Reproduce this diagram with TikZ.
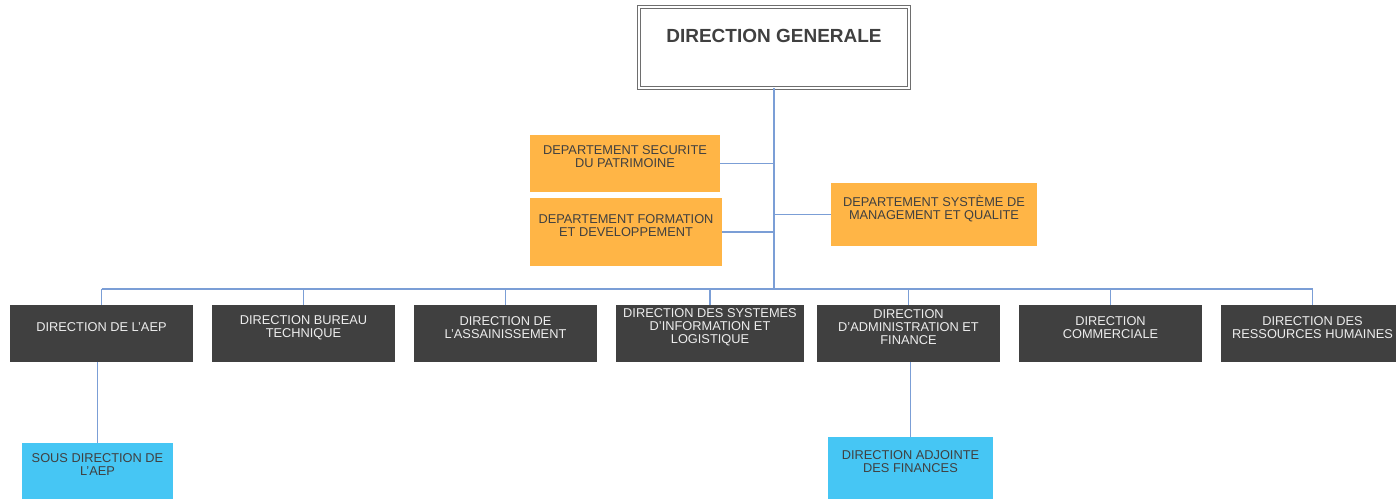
\documentclass[tikz,border=0pt]{standalone}
\usepackage{fontspec}
\setmainfont{Liberation Sans}
\definecolor{linkblue}{HTML}{7B9ED6}
\definecolor{deptorange}{HTML}{FFB546}
\definecolor{subblue}{HTML}{46C6F4}
\definecolor{dirgray}{HTML}{404040}
\definecolor{inktext}{HTML}{404040}
\definecolor{framegray}{HTML}{6E6E6E}
\tikzset{
  box/.style={rectangle, inner sep=0pt, outer sep=0pt},
  deptbox/.style={box, fill=deptorange},
  dirbox/.style={box, fill=dirgray, minimum height=57pt},
  subbox/.style={box, fill=subblue},
  txt/.style={inner sep=0pt, align=center, font=\fontsize{12.8}{13}\selectfont},
  darktxt/.style={txt, text=inktext},
  lighttxt/.style={txt, text=white!93!black},
  link/.style={draw=linkblue, line width=1.2pt},
  trunk/.style={draw=linkblue, line width=1.8pt},
}
\begin{document}
\begin{tikzpicture}[x=1pt, y=-1pt]
\useasboundingbox (0,0) rectangle (1396,499);
\clip (0,0) rectangle (1396,499);
\fill[white] (0,0) rectangle (1396,499);

% General direction
\node[box, draw=framegray, double, double distance=2.2pt, line width=0.9pt,
      minimum width=270pt, minimum height=81pt] (dg) at (774,47.5) {};
\node[txt, text=inktext, font=\fontsize{19}{20}\selectfont\bfseries] (dgt) at (774,36) {DIRECTION GENERALE};

% Staff departments
\node[deptbox, minimum width=190pt, minimum height=57pt] (o1) at (625,163.5) {};
\node[darktxt] (o1t) at (625,157) {DEPARTEMENT SECURITE\\DU PATRIMOINE};
\node[deptbox, minimum width=192pt, minimum height=68pt] (o2) at (626,232) {};
\node[darktxt] (o2t) at (626,226) {DEPARTEMENT FORMATION\\ET DEVELOPPEMENT};
\node[deptbox, minimum width=206pt, minimum height=63pt] (o3) at (934,214.5) {};
\node[darktxt] (o3t) at (934,209) {DEPARTEMENT SYSTÈME DE\\MANAGEMENT ET QUALITE};

% Directions
\foreach \n/\x/\w in {d1/101.5/183, d2/303.5/183, d3/505.5/183, d4/710/188,
                      d5/908.5/183, d6/1110.5/183, d7/1312.5/183}
  \node[dirbox, minimum width=\w pt] (\n) at (\x,333.5) {};
\node[lighttxt] (d1t) at (101.5,327.5) {DIRECTION DE L'AEP};
\node[lighttxt] (d2t) at (303.5,327.5) {DIRECTION BUREAU\\TECHNIQUE};
\node[lighttxt] (d3t) at (505.5,327.5) {DIRECTION DE\\L'ASSAINISSEMENT};
\node[lighttxt] (d4t) at (710,327.5) {DIRECTION DES SYSTEMES\\D'INFORMATION ET\\LOGISTIQUE};
\node[lighttxt] (d5t) at (908.5,327.5) {DIRECTION\\D'ADMINISTRATION ET\\FINANCE};
\node[lighttxt] (d6t) at (1110.5,327.5) {DIRECTION\\COMMERCIALE};
\node[lighttxt] (d7t) at (1312.5,327.5) {DIRECTION DES\\RESSOURCES HUMAINES};

% Sub-directions
\node[subbox, minimum width=151pt, minimum height=56pt] (b1) at (97.5,471) {};
\node[darktxt] (b1t) at (97.5,465) {SOUS DIRECTION DE\\L'AEP};
\node[subbox, minimum width=165pt, minimum height=62pt] (b2) at (910.5,468) {};
\node[darktxt] (b2t) at (910.5,462) {DIRECTION ADJOINTE\\DES FINANCES};

% Connectors
\coordinate (bus) at (774,289);
\draw[trunk] (dg.south) -- (bus);
\draw[link] (o1.east) -- (o1.east -| dg.south);
\draw[link] (o2.east) -- (o2.east -| dg.south);
\draw[link] (o3.west) -- (o3.west -| dg.south);
\draw[link] (bus -| d1.north) -- (bus -| d7.north);
\foreach \n in {d1,d2,d3,d4,d5,d6,d7}
  \draw[link] (bus -| \n.north) -- (\n.north);
\draw[link] (b1.north) -- (b1.north |- d1.south);
\draw[link] (b2.north) -- (b2.north |- d5.south);
\end{tikzpicture}
\end{document}
